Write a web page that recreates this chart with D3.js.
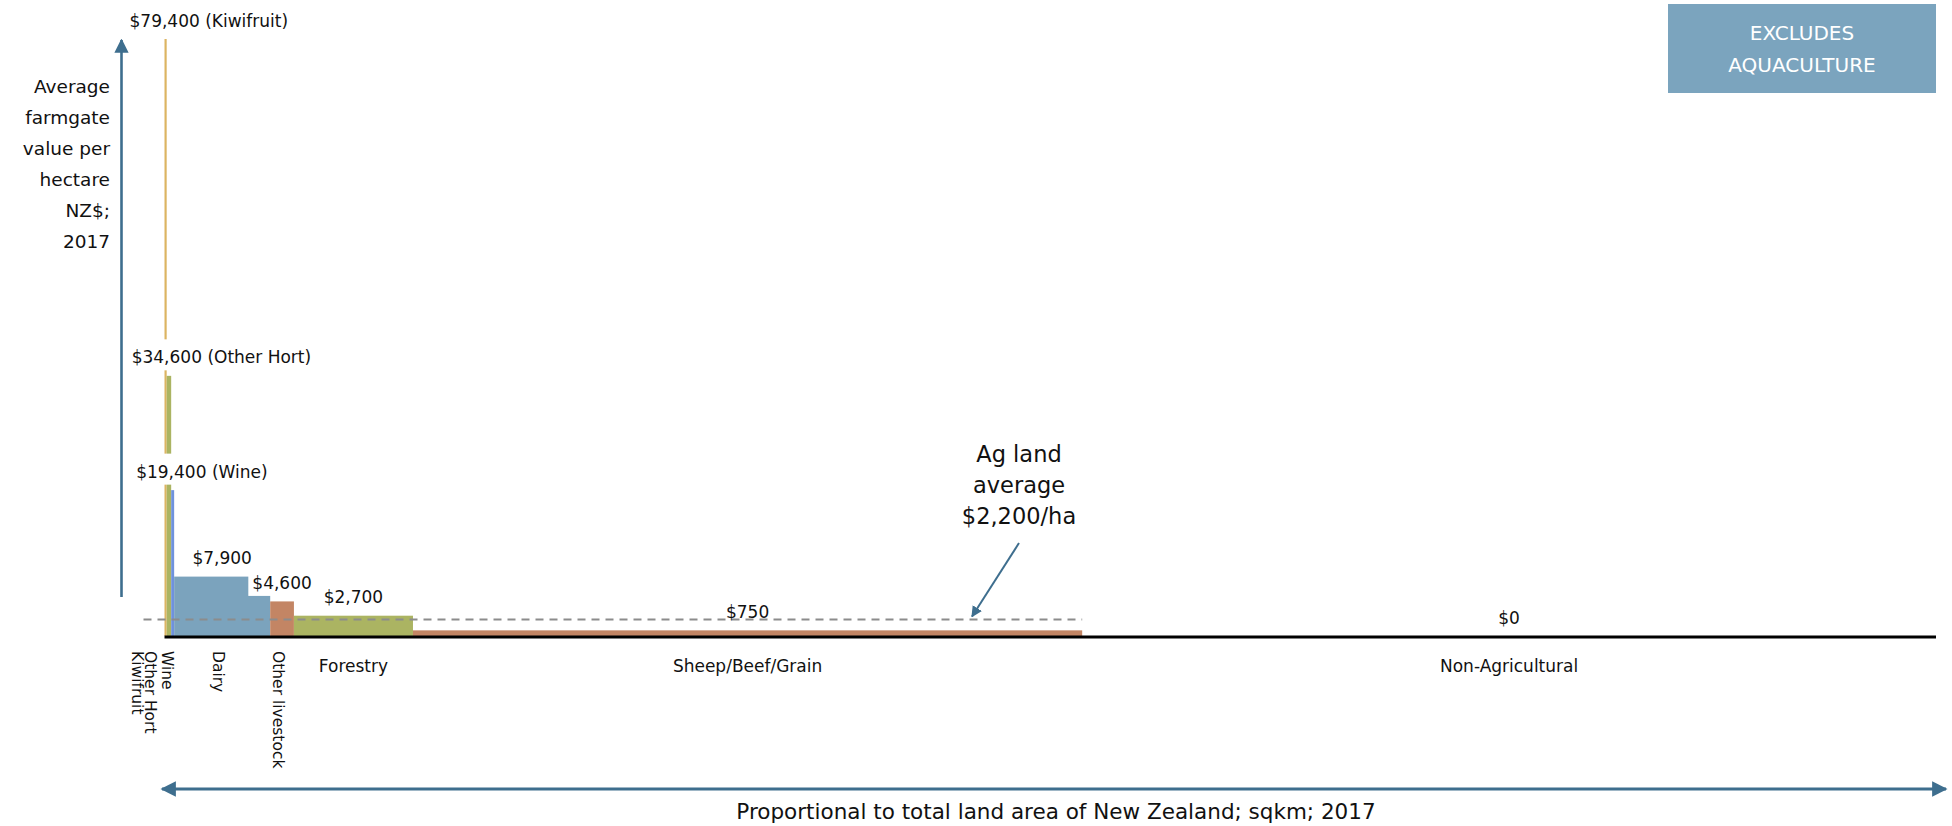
<!DOCTYPE html>
<html>
<head>
<meta charset="utf-8">
<script src="https://cdn.jsdelivr.net/npm/d3@7"></script>
<style>
  html, body { margin: 0; padding: 0; background: #ffffff; }
  svg { display: block; font-family: "DejaVu Sans", "Open Sans", sans-serif; }
</style>
</head>
<body>
<svg id="chart" width="1952" height="826"></svg>
<script>
// ---- data ----
const categories = ["Kiwifruit", "Other Hort", "Wine", "Dairy", "Other livestock", "Forestry", "Sheep/Beef/Grain", "Non-Agricultural"];
const areaSqkm   = [330, 680, 450, 14530, 3590, 18010, 101240, 129170];
const valuePerHa = [79400, 34600, 19400, 7900, 4600, 2700, 750, 0];
const labelSuffix = [" (Kiwifruit)", " (Other Hort)", " (Wine)", "", "", "", "", ""];
const agAverage = 2200;
const yTitleLines = ["Average", "farmgate", "value per", "hectare", "NZ$;", "2017"];
const xTitle = "Proportional to total land area of New Zealand; sqkm; 2017";
const noteLines = ["Ag land", "average", "$2,200/ha"];
const boxLines = ["EXCLUDES", "AQUACULTURE"];

// ---- styles ----
const barColors = ["#dcb462", "#abb462", "#6f92dc", "#7ba3bd", "#c38564", "#abb462", "#c38564", "#c38564"];
const rotatedCats = new Set(["Kiwifruit", "Other Hort", "Wine", "Dairy", "Other livestock"]);
const arrowColor = "#3e6e8e";

const svg = d3.select("#chart");
const total = d3.sum(areaSqkm);
const starts = d3.cumsum([0].concat(areaSqkm.slice(0, -1)));
const data = categories.map((c, i) => ({
  cat: c, area: areaSqkm[i], value: valuePerHa[i], start: starts[i],
  color: barColors[i], suffix: labelSuffix[i], idx: i
}));

const x = d3.scaleLinear().domain([0, total]).range([164.5, 1936]);
const y = d3.scaleLinear().domain([0, 79400]).range([636, 39]);
const fmt = d3.format("$,");

const defs = svg.append("defs");
function marker(id, orient) {
  defs.append("marker").attr("id", id)
    .attr("viewBox", "0 0 10 10").attr("refX", 9).attr("refY", 5)
    .attr("markerWidth", 5.5).attr("markerHeight", 5.5)
    .attr("markerUnits", "strokeWidth").attr("orient", orient)
    .append("path").attr("d", "M0,0 L10,5 L0,10 Z").attr("fill", arrowColor);
}
marker("arrEnd", "auto");
marker("arrStart", "auto-start-reverse");

// ---- bars ----
svg.append("g").selectAll("rect").data(data.filter(d => d.value > 0)).join("rect")
  .attr("x", d => x(d.start))
  .attr("width", d => x(d.start + d.area) - x(d.start))
  .attr("y", d => y(d.value))
  .attr("height", d => y(0) - y(d.value))
  .attr("fill", d => d.color);

// ---- x baseline ----
svg.append("line")
  .attr("x1", x(0)).attr("x2", x(total))
  .attr("y1", y(0) + 1).attr("y2", y(0) + 1)
  .attr("stroke", "#000").attr("stroke-width", 3);

// ---- average dashed line ----
const agEnd = starts[6] + areaSqkm[6];
svg.append("line")
  .attr("x1", x(0) - 21).attr("x2", x(agEnd))
  .attr("y1", y(agAverage)).attr("y2", y(agAverage))
  .attr("stroke", "#8c8c8c").attr("stroke-width", 2)
  .attr("stroke-dasharray", "8,6");

// ---- value labels (with white backing boxes) ----
const labG = svg.append("g");
data.forEach(d => {
  const lead = d.idx < 3;
  const tx = lead ? x(d.start) - 35 : x(d.start + d.area / 2);
  const ty = y(d.value) - 12.5;
  const g = labG.append("g");
  const t = g.append("text")
    .attr("x", tx).attr("y", ty)
    .attr("text-anchor", lead ? "start" : "middle")
    .attr("font-size", 17).attr("fill", "#111")
    .text(fmt(d.value) + d.suffix);
  if (d.value > 1000) {
    const bb = t.node().getBBox();
    g.insert("rect", "text")
      .attr("x", bb.x - 4).attr("width", bb.width + 8)
      .attr("y", ty - 24).attr("height", 31)
      .attr("fill", "#fff");
  }
});

// ---- category labels ----
const catG = svg.append("g").attr("fill", "#111");
const rotOffsets = {"Kiwifruit": -28, "Other Hort": -15, "Wine": 2};
data.forEach(d => {
  const cx = x(d.start + d.area / 2);
  if (rotatedCats.has(d.cat)) {
    const px = d.idx < 3 ? x(0) + rotOffsets[d.cat] : cx - 5;
    catG.append("text")
      .attr("transform", `translate(${px},651) rotate(90)`)
      .attr("dominant-baseline", "middle")
      .attr("font-size", 15.5)
      .text(d.cat);
  } else {
    catG.append("text")
      .attr("x", cx).attr("y", 672)
      .attr("text-anchor", "middle")
      .attr("font-size", 17)
      .text(d.cat);
  }
});

// ---- y axis arrow + title ----
svg.append("line")
  .attr("x1", 121.5).attr("x2", 121.5)
  .attr("y1", 597).attr("y2", 40)
  .attr("stroke", arrowColor).attr("stroke-width", 2.6)
  .attr("marker-end", "url(#arrEnd)");
svg.append("g").selectAll("text").data(yTitleLines).join("text")
  .attr("x", 110).attr("y", (d, i) => 93 + i * 31)
  .attr("text-anchor", "end").attr("font-size", 18.5).attr("fill", "#111")
  .text(d => d);

// ---- x axis double arrow + title ----
svg.append("line")
  .attr("x1", 162).attr("x2", 1946)
  .attr("y1", 789).attr("y2", 789)
  .attr("stroke", arrowColor).attr("stroke-width", 2.8)
  .attr("marker-start", "url(#arrStart)")
  .attr("marker-end", "url(#arrEnd)");
svg.append("text")
  .attr("x", 1056).attr("y", 819)
  .attr("text-anchor", "middle").attr("font-size", 21.5).attr("fill", "#111")
  .text(xTitle);

// ---- annotation ----
svg.append("g").selectAll("text").data(noteLines).join("text")
  .attr("x", 1019).attr("y", (d, i) => 462 + i * 31)
  .attr("text-anchor", "middle").attr("font-size", 22.5).attr("fill", "#111")
  .text(d => d);
svg.append("line")
  .attr("x1", 1019).attr("y1", 543)
  .attr("x2", 972).attr("y2", y(agAverage) - 3)
  .attr("stroke", arrowColor).attr("stroke-width", 2)
  .attr("marker-end", "url(#arrEnd)");

// ---- excludes box ----
svg.append("rect")
  .attr("x", 1668).attr("y", 4).attr("width", 268).attr("height", 89)
  .attr("fill", "#7ba4be");
svg.append("g").selectAll("text").data(boxLines).join("text")
  .attr("x", 1802).attr("y", (d, i) => 40 + i * 32)
  .attr("text-anchor", "middle").attr("font-size", 20).attr("fill", "#fff")
  .text(d => d);
</script>
</body>
</html>
